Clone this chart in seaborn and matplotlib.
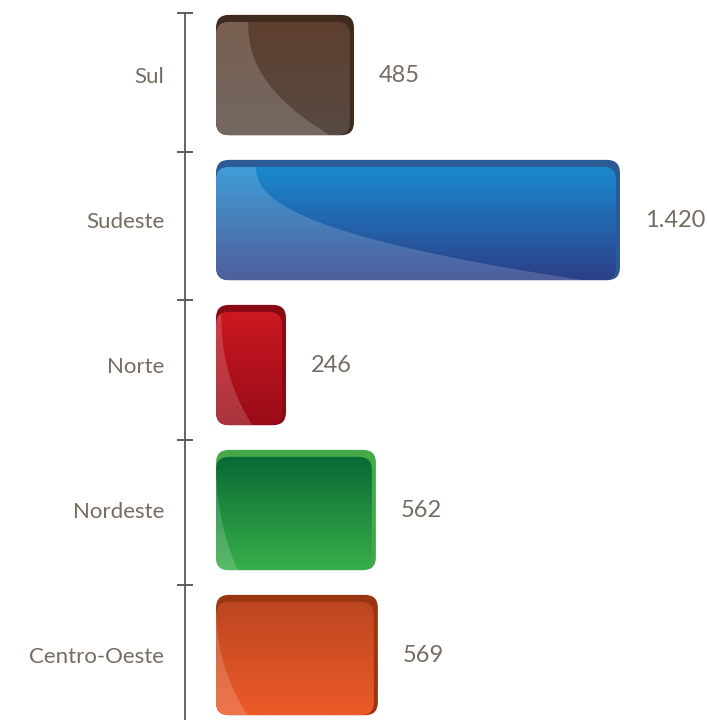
import numpy as np
import pandas as pd
import matplotlib
matplotlib.use("Agg")
import matplotlib.pyplot as plt
import seaborn as sns
from matplotlib.patches import FancyBboxPatch, Polygon
from matplotlib.colors import LinearSegmentedColormap

# data
regions = ["Sul", "Sudeste", "Norte", "Nordeste", "Centro-Oeste"]
values = [485, 1420, 246, 562, 569]
value_labels = ["485", "1.420", "246", "562", "569"]

# colours: (rim, top of gradient, bottom of gradient)
bar_colors = [
    ("#3f2a1e", "#5e3f2e", "#574a41"),
    ("#2b5a95", "#1a8ad0", "#2c3f88"),
    ("#8a0a14", "#cc1822", "#980c18"),
    ("#45a94a", "#086a34", "#38ae4b"),
    ("#9a3512", "#bc4620", "#ec5a28"),
]
# gloss curve (fraction of width at top, at bottom)
gloss = [(0.24, 0.85), (0.1, 0.92), (0.08, 0.55), (0.0, 0.14), (0.0, 0.2)]

text_color = "#776c61"

sns.set_style("white")
plt.rcParams["font.family"] = ["Lato", "DejaVu Sans"]

fig = plt.figure(figsize=(7.07, 7.2), dpi=100)
ax = fig.add_axes([185 / 707, 0, 1 - 185 / 707, 707 / 720])

df = pd.DataFrame({"region": regions, "value": values})
sns.barplot(data=df, x="value", y="region", hue="region", orient="h",
            palette=[c[1] for c in bar_colors], width=0.83, legend=False, ax=ax)

px_x = 404 / 1420  # pixels per unit
ax.set_xlim(-31 / px_x, (707 - 185 - 31) / px_x)
ax.set_ylim(4.448, -0.428)

rx = 13 / px_x
ry = 13 / 145
for i, p in enumerate(ax.patches[:len(values)]):
    x0, y0 = p.get_x(), p.get_y()
    w, h = p.get_width(), p.get_height()
    p.set_visible(False)
    rim, c_top, c_bot = bar_colors[i]
    outer = FancyBboxPatch((x0, y0), w, h,
                           boxstyle=f"round,pad=0,rounding_size={rx}",
                           mutation_aspect=ry / rx, fc=rim, ec="none", zorder=2)
    ax.add_patch(outer)
    # inner gradient face, inset a little from the top and right
    iy0 = y0 + 7 / 145
    iw = w - 4 / px_x
    ih = h - 7 / 145
    inner = FancyBboxPatch((x0, iy0), iw, ih,
                           boxstyle=f"round,pad=0,rounding_size={rx}",
                           mutation_aspect=ry / rx, fc="none", ec="none", zorder=3)
    ax.add_patch(inner)
    cmap = LinearSegmentedColormap.from_list(f"g{i}", [c_top, c_bot])
    grad = np.linspace(0, 1, 64).reshape(-1, 1)
    im = ax.imshow(grad, cmap=cmap, aspect="auto", origin="upper",
                   extent=(x0, x0 + iw, iy0 + ih, iy0), zorder=3,
                   interpolation="bilinear")
    im.set_clip_path(inner)
    # lighter gloss on the left, bounded by a curve
    gt, gb = gloss[i]
    t = np.linspace(0, 1, 40)
    cx = x0 + iw * (gt + (gb - gt) * t ** 2.3)
    cy = iy0 + ih * t
    pts = [(x0, iy0)] + list(zip(cx, cy)) + [(x0, iy0 + ih)]
    gl = Polygon(pts, closed=True, fc="white", ec="none", alpha=0.17, zorder=4)
    ax.add_patch(gl)
    gl.set_clip_path(inner)
    ax.text(x0 + w + 25 / px_x, y0 + h / 2, value_labels[i], va="center",
            ha="left", fontsize=17, color=text_color)

sns.despine(ax=ax, left=False, bottom=True, top=True, right=True)
ax.spines["left"].set_color("#5a5a5a")
ax.spines["left"].set_linewidth(1.3)
ax.set_xticks([])
ax.set_xlabel("")
ax.set_ylabel("")
ax.set_yticks(range(len(regions)))
ax.set_yticklabels(regions, fontsize=16, color=text_color)
ax.tick_params(axis="y", which="major", length=0, pad=15)
ax.set_yticks([-0.425, 0.53, 1.55, 2.52, 3.52], minor=True)
ax.tick_params(axis="y", which="minor", left=True, direction="inout",
               length=12, width=1.1, color="#333333")
ax.set_facecolor("white")

fig.savefig("out.png", dpi=100, facecolor="white")
